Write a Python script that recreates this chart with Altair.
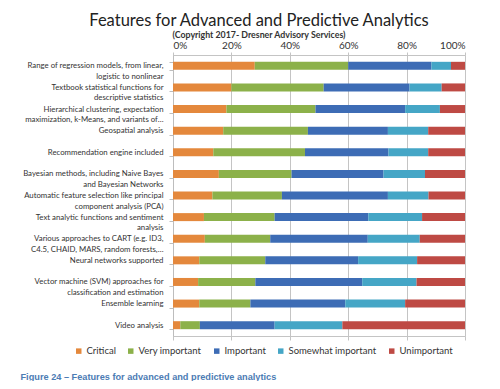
import altair as alt
import pandas as pd

categories = [
    "Range of regression models, from linear,\nlogistic to nonlinear",
    "Textbook statistical functions for\ndescriptive statistics",
    "Hierarchical clustering, expectation\nmaximization, k-Means, and variants of…",
    "Geospatial analysis",
    "Recommendation engine included",
    "Bayesian methods, including Naive Bayes\nand Bayesian Networks",
    "Automatic feature selection like principal\ncomponent analysis (PCA)",
    "Text analytic functions and sentiment\nanalysis",
    "Various approaches to CART (e.g. ID3,\nC4.5, CHAID, MARS, random forests,…",
    "Neural networks supported",
    "Vector machine (SVM) approaches for\nclassification and estimation",
    "Ensemble learning",
    "Video analysis",
]

levels = ["Critical", "Very important", "Important", "Somewhat important", "Unimportant"]
colors = ["#E4883C", "#8CB14A", "#3D6CB5", "#45A6C6", "#BE4A44"]

critical = [28.0, 20.0, 18.3, 17.2, 13.8, 15.7, 13.5, 10.6, 10.9, 9.0, 8.6, 9.0, 2.5]
very_important = [32.0, 31.6, 30.5, 29.0, 31.4, 24.9, 23.8, 24.2, 22.4, 22.6, 19.6, 17.5, 6.7]
important = [28.5, 29.4, 30.7, 27.4, 28.6, 31.5, 36.3, 32.1, 33.4, 31.8, 36.6, 32.5, 25.6]
somewhat_important = [6.7, 11.0, 11.9, 13.8, 13.6, 14.2, 13.9, 18.4, 17.8, 20.2, 18.6, 20.5, 23.2]
unimportant = [4.8, 8.0, 8.6, 12.6, 12.6, 13.7, 12.5, 14.7, 15.5, 16.4, 16.6, 20.5, 42.0]

series = [critical, very_important, important, somewhat_important, unimportant]
rows = []
for li, (lvl, vals) in enumerate(zip(levels, series)):
    for cat, v in zip(categories, vals):
        rows.append({"feature": cat, "level": lvl, "value": v, "rank": li})
df = pd.DataFrame(rows)

FONT = "Lato"

y_enc = alt.Y(
    "feature:N",
    sort=categories,
    title=None,
    scale=alt.Scale(paddingInner=0.63, paddingOuter=0.315),
    axis=alt.Axis(
        labelExpr="split(datum.label, '\\n')",
        labelFontSize=7.8,
        labelFont=FONT,
        labelColor="#333333",
        labelLineHeight=10.5,
        labelPadding=6,
        labelLimit=200,
        tickBand="extent",
        tickSize=4,
        tickColor="#bdbdbd",
        domainColor="#bdbdbd",
    ),
)

bars = alt.Chart(df).mark_bar().encode(
    x=alt.X(
        "value:Q",
        stack="normalize",
        scale=alt.Scale(domain=[0, 1], nice=False),
        title=None,
        axis=alt.Axis(
            orient="top",
            format=".0%",
            values=[0, 0.2, 0.4, 0.6, 0.8, 1.0],
            grid=True,
            gridColor="#c4c4c4",
            domainColor="#c4c4c4",
            tickColor="#c4c4c4",
            tickSize=3,
            labelPadding=2,
            labelFont=FONT,
            labelFontSize=10,
            labelColor="#333333",
        ),
    ),
    y=y_enc,
    color=alt.Color(
        "level:N",
        sort=levels,
        scale=alt.Scale(domain=levels, range=colors),
        legend=alt.Legend(
            orient="none",
            legendX=-99,
            legendY=291,
            direction="horizontal",
            columns=5,
            title=None,
            symbolType="square",
            symbolSize=30,
            symbolStrokeWidth=0,
            labelFont=FONT,
            labelFontSize=9.5,
            labelColor="#333333",
            labelOffset=3,
            columnPadding=10,
        ),
    ),
    order=alt.Order("rank:Q", sort="ascending"),
)

bottom = alt.Chart(df).mark_bar(opacity=0).encode(
    x=alt.X(
        "value:Q",
        stack="normalize",
        scale=alt.Scale(domain=[0, 1], nice=False),
        axis=alt.Axis(
            orient="bottom",
            values=[0, 0.2, 0.4, 0.6, 0.8, 1.0],
            labels=False,
            grid=False,
            domainColor="#c4c4c4",
            tickColor="#c4c4c4",
            tickSize=4,
            title="Figure 24 – Features for advanced and predictive analytics",
            titleFont="Liberation Sans",
            titleFontSize=9.2,
            titleFontWeight="bold",
            titleColor="#4C7CB4",
            titleAnchor="start",
            titleAlign="left",
            titleBaseline="alphabetic",
            titleX=-153,
            titleY=43,
        ),
    ),
    y=alt.Y("feature:N", sort=categories),
    order=alt.Order("rank:Q", sort="ascending"),
)

chart = (
    alt.layer(bars, bottom)
    .resolve_axis(x="independent")
    .properties(
        width=292,
        height=281,
        autosize=alt.AutoSizeParams(type="none"),
        padding={"left": 165, "top": 47, "right": 27, "bottom": 45},
        title=alt.TitleParams(
            text="Features for Advanced and Predictive Analytics",
            subtitle="(Copyright 2017- Dresner Advisory Services)",
            anchor="middle",
            frame="group",
            dx=-60,
            offset=0.5,
            font=FONT,
            fontSize=16.5,
            fontWeight="normal",
            color="#222222",
            subtitleFont=FONT,
            subtitleFontSize=8.8,
            subtitleFontWeight="bold",
            subtitleColor="#333333",
            subtitlePadding=1.5,
        ),
    )
    .configure_view(stroke=None)
    .configure(background="white")
)

chart.save("out.html", embed_options={"renderer": "svg", "actions": False})
